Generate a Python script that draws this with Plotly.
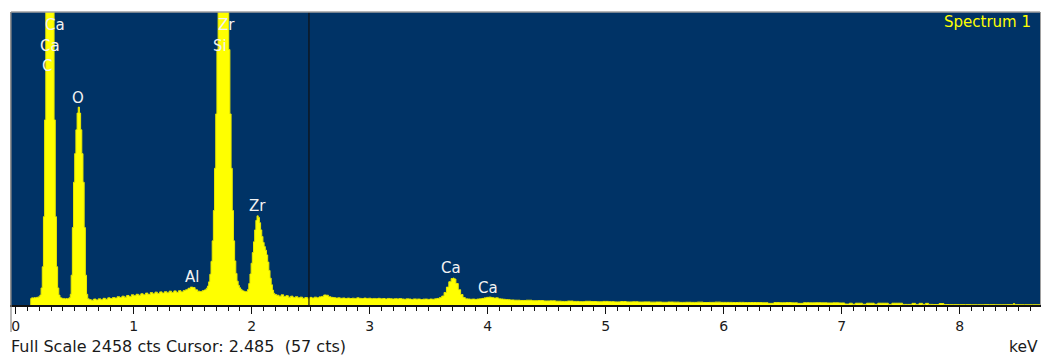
import plotly.graph_objects as go

# EDS spectrum: channel energy (keV) and counts
energy_kev = [
    0.125, 0.13, 0.14, 0.15, 0.16, 0.17, 0.18, 0.19, 0.20,
    0.21, 0.22, 0.23, 0.24, 0.25, 0.26, 0.27, 0.28, 0.29, 0.30,
    0.31, 0.32, 0.33, 0.34, 0.35, 0.36, 0.37, 0.38,
    0.39, 0.40, 0.41, 0.42, 0.43, 0.44, 0.45, 0.46,
    0.465, 0.475, 0.485, 0.495, 0.505, 0.515, 0.525, 0.535, 0.545,
    0.555, 0.565, 0.575, 0.585, 0.595, 0.605, 0.615,
    0.63, 0.65, 0.67, 0.69, 0.71, 0.73, 0.75, 0.77, 0.79, 0.81,
    0.83, 0.85, 0.87, 0.89, 0.91, 0.93, 0.95, 0.97, 0.99, 1.01,
    1.03, 1.05, 1.07, 1.09, 1.11, 1.13, 1.15, 1.17, 1.19, 1.21,
    1.23, 1.25, 1.27, 1.29, 1.31, 1.33, 1.35, 1.37, 1.39, 1.41,
    1.43, 1.45, 1.47, 1.49, 1.51, 1.53, 1.55, 1.57, 1.59, 1.60,
    1.61, 1.62, 1.63, 1.64, 1.65, 1.66, 1.67, 1.68, 1.69, 1.70,
    1.71, 1.72, 1.73, 1.74, 1.75, 1.76, 1.77, 1.78, 1.79, 1.80,
    1.81, 1.82, 1.83, 1.84, 1.85, 1.86, 1.87, 1.88, 1.89, 1.90,
    1.91, 1.92, 1.93, 1.94, 1.95, 1.96, 1.97, 1.98, 1.99, 2.00,
    2.01, 2.02, 2.03, 2.04, 2.05, 2.06, 2.07, 2.08, 2.09, 2.10,
    2.11, 2.12, 2.13, 2.14, 2.15, 2.16, 2.17, 2.18, 2.19, 2.20,
    2.22, 2.24, 2.26, 2.28, 2.30, 2.32, 2.34, 2.36, 2.38, 2.40,
    2.42, 2.44, 2.46, 2.485, 2.50, 2.52, 2.54, 2.56, 2.58, 2.60,
    2.62, 2.64, 2.66, 2.68, 2.70, 2.72, 2.74, 2.76, 2.78, 2.80,
    2.82, 2.84, 2.86, 2.88, 2.90, 2.92, 2.94, 2.96, 2.98, 3.00,
    3.02, 3.04, 3.06, 3.08, 3.10, 3.12, 3.14, 3.16, 3.18, 3.20,
    3.22, 3.24, 3.26, 3.28, 3.30, 3.32, 3.34, 3.36, 3.38, 3.40,
    3.42, 3.44, 3.46, 3.48, 3.50, 3.52, 3.54, 3.56, 3.58, 3.60,
    3.62, 3.64, 3.66, 3.68, 3.70, 3.71, 3.72, 3.74, 3.76, 3.78,
    3.80, 3.82, 3.84, 3.86, 3.88, 3.90, 3.92, 3.94, 3.96, 3.98,
    4.00, 4.02, 4.04, 4.06, 4.08, 4.10, 4.12, 4.14, 4.16, 4.18,
    4.20, 4.25, 4.30, 4.35, 4.40, 4.45, 4.50, 4.55, 4.60, 4.65,
    4.70, 4.75, 4.80, 4.85, 4.90, 4.95, 5.00, 5.05, 5.10, 5.15,
    5.20, 5.25, 5.30, 5.35, 5.40, 5.45, 5.50, 5.55, 5.60, 5.65,
    5.70, 5.75, 5.80, 5.85, 5.90, 5.95, 6.00, 6.05, 6.10, 6.15,
    6.20, 6.25, 6.30, 6.35, 6.40, 6.45, 6.50, 6.55, 6.60, 6.65,
    6.70, 6.75, 6.80, 6.85, 6.90, 6.95, 7.00, 7.05, 7.08, 7.10,
    7.13, 7.16, 7.19, 7.23, 7.26, 7.29, 7.32, 7.35, 7.38, 7.41,
    7.44, 7.47, 7.50, 7.53, 7.58, 7.61, 7.64, 7.67, 7.70, 7.72,
    7.75, 7.80, 7.85, 7.88, 7.95, 8.05, 8.15, 8.25, 8.35, 8.45,
    8.46, 8.47, 8.55, 8.68,
]
counts = [
    0, 55, 60, 58, 62, 60, 64, 66, 70,
    83, 143, 321, 741, 1553, 2805, 4297, 5557, 6057, 5557,
    4297, 2805, 1553, 741, 321, 143, 83, 62,
    58, 52, 55, 50, 54, 52, 56, 62,
    90, 250, 650, 1030, 1270, 1470, 1610, 1660, 1610,
    1470, 1270, 1030, 650, 250, 90, 52,
    45, 40, 50, 42, 52, 44, 56, 48, 60, 54,
    62, 58, 70, 62, 74, 66, 80, 70, 86, 78,
    90, 82, 94, 86, 100, 88, 104, 94, 108, 96,
    110, 100, 112, 102, 116, 104, 118, 106, 120, 110,
    122, 128, 140, 150, 146, 128, 116, 112, 120, 125,
    128, 141, 159, 194, 258, 366, 538, 793, 1147, 1603,
    2143, 2730, 3303, 3785, 4110, 4225, 4110, 3785, 3303, 2730,
    2143, 1603, 1147, 793, 538, 370, 265, 200, 165, 145,
    132, 124, 118, 115, 112, 114, 130, 180, 260, 350,
    440, 530, 630, 710, 748, 735, 690, 630, 575, 525,
    490, 460, 420, 360, 290, 225, 170, 125, 98, 88,
    82, 74, 86, 72, 78, 66, 74, 62, 70, 60,
    66, 56, 62, 57, 64, 58, 66, 60, 68, 72,
    84, 82, 70, 64, 62, 58, 60, 56, 59, 55,
    58, 54, 57, 55, 60, 56, 54, 58, 55, 57,
    52, 55, 53, 56, 52, 54, 50, 55, 52, 50,
    53, 51, 54, 50, 48, 52, 50, 47, 51, 49,
    50, 46, 49, 50, 47, 50, 48, 52, 55, 62,
    75, 105, 150, 195, 222, 226, 218, 180, 128, 88,
    62, 52, 50, 48, 50, 47, 50, 52, 55, 60,
    64, 66, 62, 58, 60, 52, 50, 48, 46, 44,
    42, 40, 38, 40, 36, 37, 34, 35, 32, 30,
    33, 30, 28, 31, 29, 27, 30, 28, 26, 29,
    26, 27, 25, 26, 24, 25, 23, 25, 24, 22,
    23, 22, 24, 21, 22, 24, 22, 22, 21, 22,
    20, 21, 20, 19, 14, 20, 19, 20, 18, 14,
    19, 18, 19, 18, 17, 18, 17, 8, 15, 6,
    15, 15, 6, 15, 15, 6, 15, 15, 15, 5,
    15, 15, 15, 5, 5, 14, 5, 14, 5, 14,
    5, 4, 12, 4, 3, 3, 2, 3, 2, 3,
    12, 3, 2, 2,
]

# Element markers: (label, energy keV, label height in counts)
peak_labels = ["Ca", "Ca", "C", "O", "Zr", "Si", "Zr", "Al", "Ca", "Ca"]
peak_label_kev = [0.335, 0.292, 0.267, 0.525, 1.783, 1.732, 2.045, 1.49, 3.685, 4.0]
peak_label_cts = [2349, 2173, 2005, 1737, 2349, 2173, 831, 235, 310, 143]

tick_kev = [0, 1, 2, 3, 4, 5, 6, 7, 8]
full_scale_cts = 2458
cursor_kev = 2.485
cursor_cts = 57
spectrum_name = "Spectrum 1"

BG = "#003366"
YELLOW = "#ffff00"
FONT = "DejaVu Sans"

fig = go.Figure()
fig.add_trace(go.Scatter(
    x=energy_kev, y=counts, mode="lines", line_shape="hvh",
    fill="tozeroy", fillcolor=YELLOW,
    line=dict(color="#e8e800", width=1),
    hoverinfo="skip", showlegend=False,
))

annotations = []
for lab, e, c in zip(peak_labels, peak_label_kev, peak_label_cts):
    annotations.append(dict(
        x=e, y=c, xref="x", yref="y", text=lab, showarrow=False,
        xanchor="center", yanchor="middle",
        font=dict(family=FONT, size=15, color="#f2f2f2"),
    ))
annotations.append(dict(
    x=1, y=0.966, xref="paper", yref="paper", text=spectrum_name,
    showarrow=False, xanchor="right", yanchor="middle", xshift=-7,
    font=dict(family=FONT, size=15, color=YELLOW),
))
annotations.append(dict(
    x=0, y=-0.143, xref="paper", yref="paper",
    text=f"Full Scale {full_scale_cts} cts Cursor: {cursor_kev:.3f}\u00a0\u00a0({cursor_cts} cts)",
    showarrow=False, xanchor="left", yanchor="middle", xshift=-2,
    font=dict(family=FONT, size=16, color="#1a1a1a"),
))
annotations.append(dict(
    x=1, y=-0.145, xref="paper", yref="paper", text="keV",
    showarrow=False, xanchor="right", yanchor="middle", xshift=0,
    font=dict(family=FONT, size=15.5, color="#1a1a1a"),
))

shapes = [
    # cursor
    dict(type="line", xref="x", yref="paper", x0=cursor_kev, x1=cursor_kev,
         y0=0, y1=1, line=dict(color="#111111", width=1.2), layer="above"),
    # frame: top edge and left edge extending below the axis
    dict(type="line", xref="paper", yref="paper", x0=0, x1=1, y0=1, y1=1,
         line=dict(color="#a0a0a0", width=1.5), layer="above"),
    dict(type="line", xref="paper", yref="paper", x0=0, x1=0, y0=1, y1=-0.092,
         line=dict(color="#8a8a8a", width=1.2), layer="above"),
]

fig.update_layout(
    width=1043, height=357,
    margin=dict(l=11, r=3, t=12, b=52),
    paper_bgcolor="white", plot_bgcolor=BG,
    annotations=annotations, shapes=shapes,
    xaxis=dict(
        range=[-0.04, 8.68], tickvals=tick_kev,
        ticktext=[str(t) for t in tick_kev],
        ticks="outside", ticklen=7, tickwidth=1, tickcolor="#111111",
        minor=dict(dtick=0.1, tick0=0, ticks="outside", ticklen=4,
                   tickwidth=1, tickcolor="#111111", showgrid=False),
        showgrid=False, zeroline=False,
        showline=True, linecolor="#111111", linewidth=1.5,
        tickfont=dict(family=FONT, size=14, color="#1a1a1a"),
        fixedrange=True,
    ),
    yaxis=dict(
        range=[0, full_scale_cts], showticklabels=False, ticks="",
        showgrid=False, zeroline=False,
        showline=True, mirror=True, linecolor="#a0a0a0", linewidth=1,
        fixedrange=True,
    ),
)

fig.write_html("out.html")
